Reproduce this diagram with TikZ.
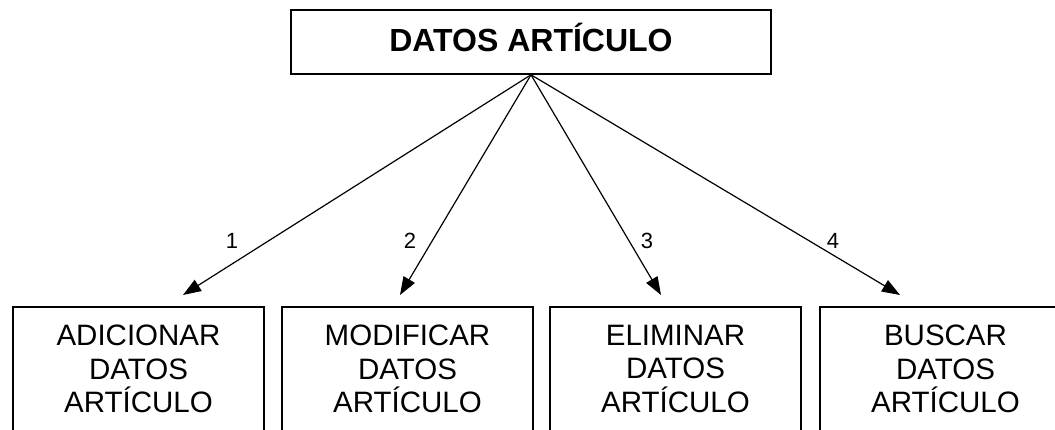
\documentclass[tikz,border=0pt]{standalone}
\usepackage{fontspec}
\setmainfont{Liberation Sans}
\usetikzlibrary{arrows.meta}
\begin{document}
\begin{tikzpicture}[x=1pt,y=-1pt,
  boxstyle/.style={draw=black, line width=1.6pt, minimum width=251pt, minimum height=150pt, anchor=north, inner sep=0pt},
  boxtext/.style={align=center, font=\fontsize{29.5}{33.5}\selectfont, anchor=north, inner sep=0pt},
  conn/.style={draw=black, line width=1.2pt, -{Triangle[length=18pt,width=13pt]}},
  numlabel/.style={font=\fontsize{22}{26}\selectfont, inner sep=0pt}]
\useasboundingbox (0,0) rectangle (1055,430);
\clip (0,0) rectangle (1055,430);
\fill[white] (0,0) rectangle (1055,430);

% top box
\node[draw=black, line width=1.6pt, minimum width=480pt, minimum height=64pt, inner sep=0pt,
      text height=23pt, text depth=3pt, font=\bfseries\fontsize{32}{38}\selectfont]
  (top) at (531,42) {DATOS ARTÍCULO};

% bottom boxes
\node[boxstyle] (b1) at (138.5,306) {};
\node[boxstyle] (b2) at (407.5,306) {};
\node[boxstyle] (b3) at (675.5,306) {};
\node[boxstyle] (b4) at (945.5,306) {};

\node[boxtext] (t1) at (138.5,325) {ADICIONAR\\DATOS\\ARTÍCULO};
\node[boxtext] (t2) at (407.5,325) {MODIFICAR\\DATOS\\ARTÍCULO};
\node[boxtext] (t3) at (675.5,325) {ELIMINAR\\DATOS\\ARTÍCULO};
\node[boxtext] (t4) at (945.5,325) {BUSCAR\\DATOS\\ARTÍCULO};

% arrow tips
\coordinate (e1) at (183,295);
\coordinate (e2) at (400,295);
\coordinate (e3) at (661,295);
\coordinate (e4) at (900,295);

\draw[conn] (top.south) -- (e1);
\draw[conn] (top.south) -- (e2);
\draw[conn] (top.south) -- (e3);
\draw[conn] (top.south) -- (e4);

\node[numlabel] (l1) at (232,241) {1};
\node[numlabel] (l2) at (410,241) {2};
\node[numlabel] (l3) at (647,241) {3};
\node[numlabel] (l4) at (833,241) {4};
\end{tikzpicture}
\end{document}
